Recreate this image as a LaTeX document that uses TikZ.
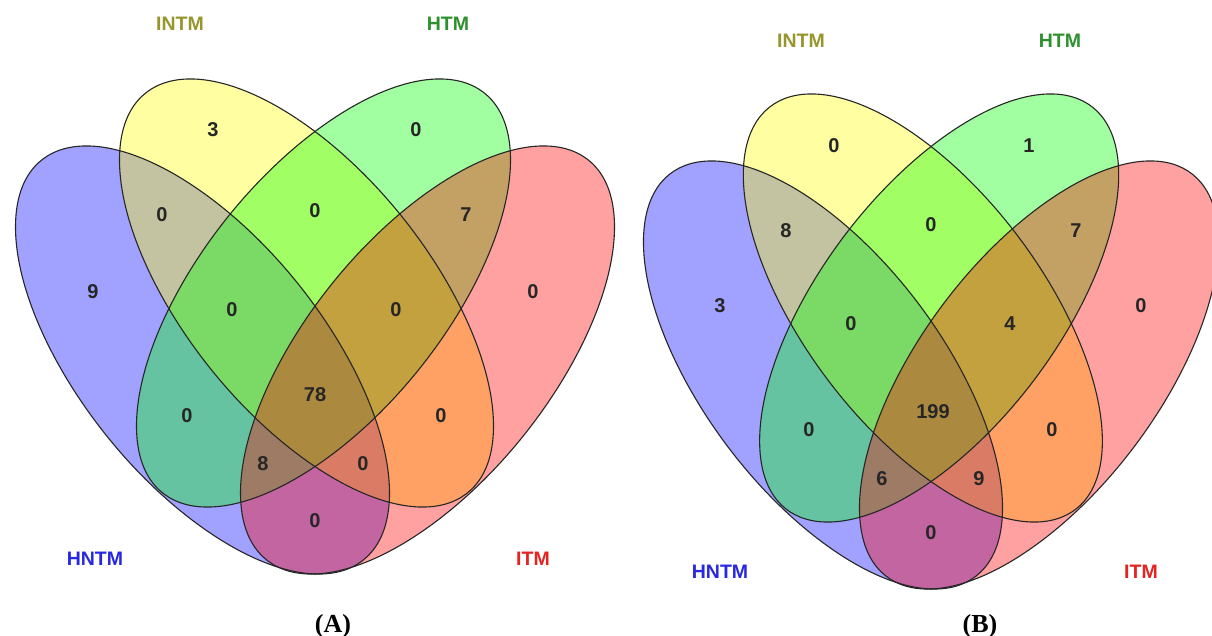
\documentclass[tikz,border=0pt]{standalone}
\usepackage{fontspec}
\setmainfont{Liberation Serif}
\setsansfont{Liberation Sans}

\definecolor{vblue}{RGB}{0,0,255}
\definecolor{vyellow}{RGB}{255,255,0}
\definecolor{vgreen}{RGB}{0,255,0}
\definecolor{vred}{RGB}{255,0,0}
\definecolor{cblue}{RGB}{40,40,225}
\definecolor{colive}{RGB}{150,150,45}
\definecolor{cgreen}{RGB}{45,145,45}
\definecolor{cred}{RGB}{230,35,35}

\tikzset{
  setfill/.style={fill opacity=0.37},
  setline/.style={draw=black!85, line width=1.1pt},
  % an ellipse given by its centre and two conjugate half-axes
  leanright/.style={shift={#1}, x={(187,133)}, y={(0,167.7)}},
  leanleft/.style={shift={#1}, x={(187,-133)}, y={(0,167.7)}},
  count/.style={font=\sffamily\bfseries\fontsize{20}{20}\selectfont, text=black!85, inner sep=0pt},
  catlabel/.style={font=\sffamily\bfseries\fontsize{19.5}{20}\selectfont, inner sep=0pt},
  panellabel/.style={font=\rmfamily\bfseries\fontsize{26}{26}\selectfont, inner sep=0pt},
}

% Four-set Venn diagram: #1 = axis of symmetry, #2 = height of the inner centres, #3 = horizontal scale
\newcommand\quadvenn[3]{%
  \begin{scope}[shift={(#1,#2)}, xscale=#3]
    \fill[vblue,   setfill, leanright={(-112.5,67)}] (0,0) circle [radius=1];
    \fill[vyellow, setfill, leanright={(-8.5,0)}]    (0,0) circle [radius=1];
    \fill[vgreen,  setfill, leanleft={(8.5,0)}]      (0,0) circle [radius=1];
    \fill[vred,    setfill, leanleft={(112.5,67)}]   (0,0) circle [radius=1];
    \draw[setline, leanright={(-112.5,67)}] (0,0) circle [radius=1];
    \draw[setline, leanright={(-8.5,0)}]    (0,0) circle [radius=1];
    \draw[setline, leanleft={(8.5,0)}]      (0,0) circle [radius=1];
    \draw[setline, leanleft={(112.5,67)}]   (0,0) circle [radius=1];
  \end{scope}}

\begin{document}
\begin{tikzpicture}[x=1pt, y=-1pt]
  \fill[white] (0,0) rectangle (1212,636);
  \useasboundingbox (0,0) rectangle (1212,636);

  % ---------- panel (A) ----------
  \quadvenn{315}{293}{1}
  \node[count] (a-hntm)   at (93,292)  {9};
  \node[count] (a-intm)   at (213,130) {3};
  \node[count] (a-htm)    at (416,130) {0};
  \node[count] (a-itm)    at (533,292) {0};
  \node[count] (a-hn-in)  at (162,215) {0};
  \node[count] (a-in-h)   at (315,211) {0};
  \node[count] (a-h-i)    at (466,215) {7};
  \node[count] (a-hn-in-h) at (232,310) {0};
  \node[count] (a-in-h-i) at (396,310) {0};
  \node[count] (a-hn-h)   at (187,416) {0};
  \node[count] (a-all)    at (315,395) {78};
  \node[count] (a-in-i)   at (441,416) {0};
  \node[count] (a-hn-h-i) at (263,464) {8};
  \node[count] (a-hn-in-i) at (363,464) {0};
  \node[count] (a-hn-i)   at (315,521) {0};
  \node[catlabel, text=colive] (a-lab-intm) at (180,24)  {INTM};
  \node[catlabel, text=cgreen] (a-lab-htm)  at (448,24)  {HTM};
  \node[catlabel, text=cblue]  (a-lab-hntm) at (95,559)  {HNTM};
  \node[catlabel, text=cred]   (a-lab-itm)  at (533,559) {ITM};
  \node[panellabel] (a-panel) at (333,626) {(A)};

  % ---------- panel (B) ----------
  \quadvenn{931}{308}{0.96}
  \node[count] (b-hntm)   at (720,306)  {3};
  \node[count] (b-intm)   at (834,146)  {0};
  \node[count] (b-htm)    at (1029,146) {1};
  \node[count] (b-itm)    at (1141,306) {0};
  \node[count] (b-hn-in)  at (786,231)  {8};
  \node[count] (b-in-h)   at (931,225)  {0};
  \node[count] (b-h-i)    at (1076,231) {7};
  \node[count] (b-hn-in-h) at (851,324) {0};
  \node[count] (b-in-h-i) at (1010,324) {4};
  \node[count] (b-hn-h)   at (809,430)  {0};
  \node[count] (b-all)    at (933,412)  {199};
  \node[count] (b-in-i)   at (1052,430) {0};
  \node[count] (b-hn-h-i) at (882,479)  {6};
  \node[count] (b-hn-in-i) at (979,479) {9};
  \node[count] (b-hn-i)   at (931,533)  {0};
  \node[catlabel, text=colive] (b-lab-intm) at (801,41)   {INTM};
  \node[catlabel, text=cgreen] (b-lab-htm)  at (1060,41)  {HTM};
  \node[catlabel, text=cblue]  (b-lab-hntm) at (720,572)  {HNTM};
  \node[catlabel, text=cred]   (b-lab-itm)  at (1141,572) {ITM};
  \node[panellabel] (b-panel) at (980,626) {(B)};
\end{tikzpicture}
\end{document}
